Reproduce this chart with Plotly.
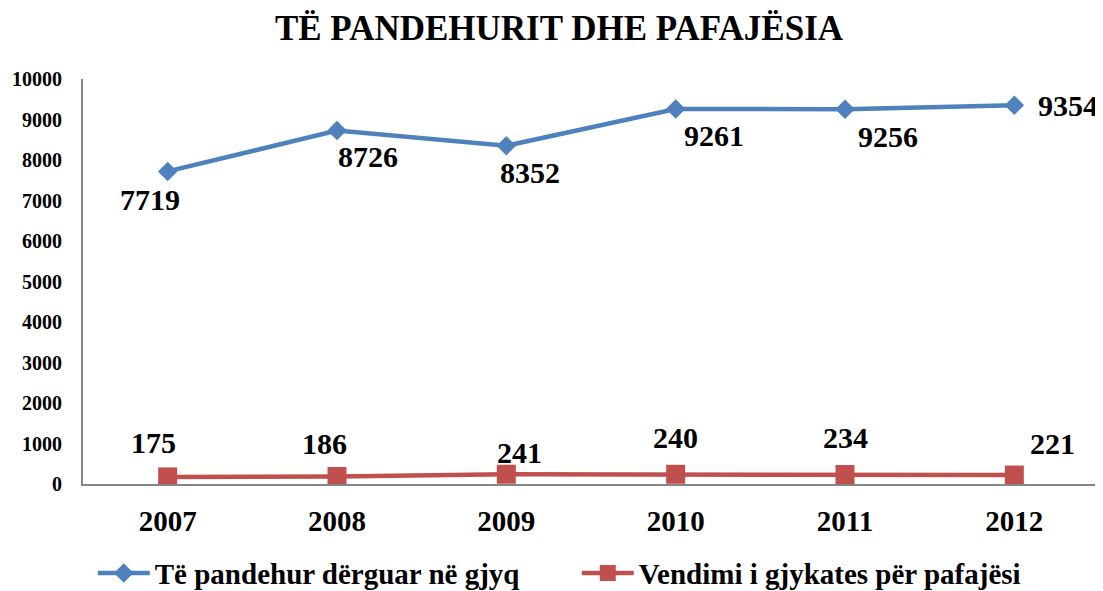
import plotly.graph_objects as go

years = ["2007", "2008", "2009", "2010", "2011", "2012"]
sent_to_court = [7719, 8726, 8352, 9261, 9256, 9354]
acquittals = [175, 186, 241, 240, 234, 221]
y_ticks = [0, 1000, 2000, 3000, 4000, 5000, 6000, 7000, 8000, 9000, 10000]

name_blue = "Të pandehur dërguar në gjyq"
name_red = "Vendimi i gjykates për pafajësi"
title = "TË PANDEHURIT DHE PAFAJËSIA"

BLUE = "#4F81BD"
RED = "#C0504D"
FONT = "Liberation Serif"

fig = go.Figure()
fig.add_trace(go.Scatter(x=years, y=sent_to_court, mode="lines+markers", name="<b>" + name_blue + "</b>",
                         line=dict(color=BLUE, width=4.5),
                         marker=dict(symbol="diamond", size=15, color=BLUE)))
fig.add_trace(go.Scatter(x=years, y=acquittals, mode="lines+markers", name="<b>" + name_red + "</b>",
                         line=dict(color=RED, width=4.5),
                         marker=dict(symbol="square", size=19, color=RED)))

# label offsets in pixels (right, up)
blue_off = [(-18, -28), (31, -26), (24, -27), (38, -27), (43, -27), (54, 0)]
red_off = [(-14, 34), (-13, 33), (13, 22), (0, 37), (0, 37), (38, 32)]
for i in range(len(years)):
    dx, dy = blue_off[i]
    fig.add_annotation(x=i, y=sent_to_court[i], xref="x", yref="y",
                       text="<b>%d</b>" % sent_to_court[i], showarrow=False,
                       xshift=dx, yshift=dy, font=dict(family=FONT, size=30, color="black"))
    dx, dy = red_off[i]
    fig.add_annotation(x=i, y=acquittals[i], xref="x", yref="y",
                       text="<b>%d</b>" % acquittals[i], showarrow=False,
                       xshift=dx, yshift=dy, font=dict(family=FONT, size=30, color="black"))

W, H = 1095, 583
fig.update_layout(
    width=W, height=H,
    margin=dict(l=75, r=4, t=71, b=107, autoexpand=False),
    paper_bgcolor="white", plot_bgcolor="white",
    font=dict(family=FONT, color="black"),
    title=dict(text="<b>" + title + "</b>", x=551 / W, xref="container", xanchor="center",
               y=1 - 20 / H, yref="container", yanchor="middle",
               font=dict(family=FONT, size=35, color="black")),
    showlegend=True,
    legend=dict(orientation="h", x=0.486, xanchor="center", y=-0.22, yanchor="middle",
                font=dict(family=FONT, size=29, color="black"),
                itemwidth=52, entrywidth=417, entrywidthmode="pixels"),
    xaxis=dict(type="category", showgrid=False, showline=True, linecolor="#868686", linewidth=2,
               ticks="outside", ticklen=10, tickcolor="rgba(0,0,0,0)",
               tickvals=years, ticktext=["<b>%s</b>" % y for y in years],
               tickfont=dict(family=FONT, size=29, color="black"),
               range=[-0.5, 5.5], zeroline=False),
    yaxis=dict(range=[0, 10000], tickvals=y_ticks, ticktext=["<b>%d</b>" % t for t in y_ticks],
               showgrid=False, showline=True, linecolor="#868686", linewidth=2,
               ticks="outside", ticklen=15, tickcolor="rgba(0,0,0,0)",
               tickfont=dict(family=FONT, size=20, color="black"),
               zeroline=False),
)

fig.write_html("out.html")
